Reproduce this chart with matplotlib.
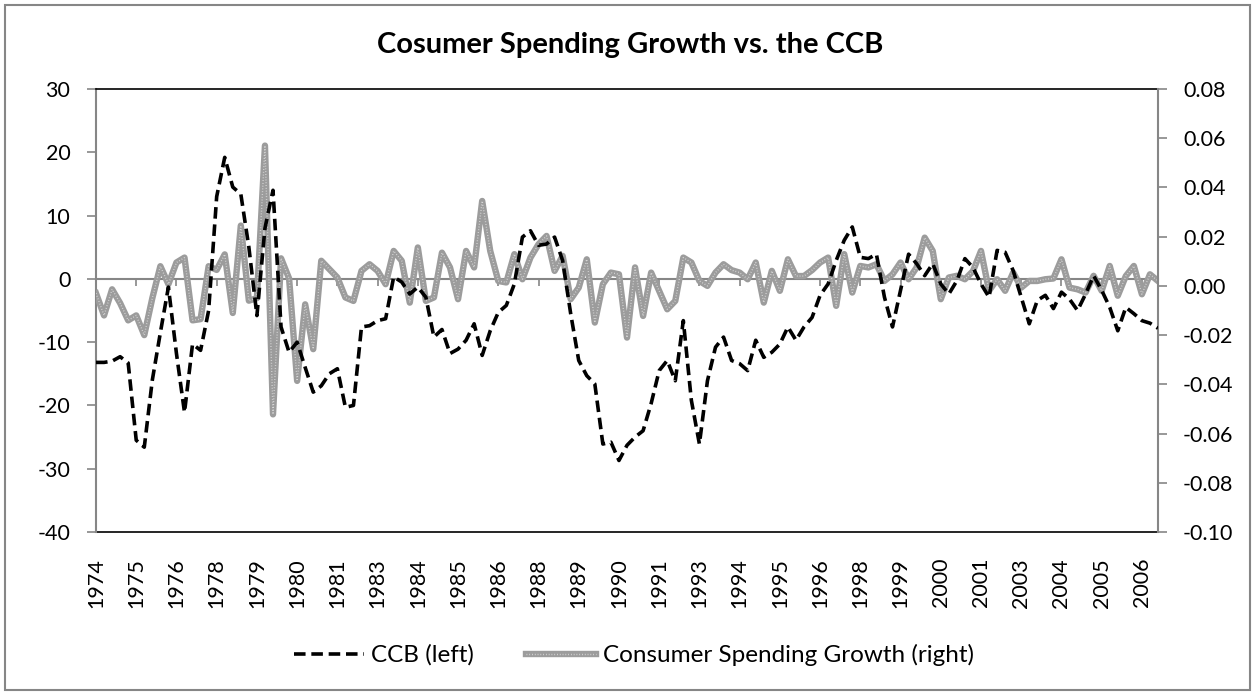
import numpy as np
import matplotlib
matplotlib.use('Agg')
import matplotlib.pyplot as plt
from matplotlib.lines import Line2D
from matplotlib.patches import Rectangle
from matplotlib.ticker import FormatStrFormatter

plt.rcParams['font.family'] = ['Lato', 'DejaVu Sans']
plt.rcParams['axes.unicode_minus'] = False

# quarterly data, 1974Q2 - 2007Q2
ccb = [-13.2, -13.2, -13.0, -12.3, -13.3, -25.5, -26.6, -16.0, -8.5, -1.3,
       -11.8, -21.1, -10.3, -11.3, -5.0, 13.0, 19.2, 14.5, 13.4, 5.0,
       -5.8, 8.0, 14.0, -7.6, -11.6, -10.0, -14.0, -17.9, -16.9, -15.0,
       -14.2, -20.3, -20.0, -7.6, -7.4, -6.6, -6.3, 0.3, -0.5, -2.4,
       -1.3, -2.9, -9.2, -8.0, -11.8, -11.1, -9.7, -7.1, -12.1, -8.2,
       -5.3, -4.2, -0.8, 6.6, 7.6, 5.3, 5.5, 6.6, 2.9, -5.5,
       -12.9, -15.3, -16.6, -26.1, -25.8, -28.7, -26.3, -25.0, -24.0, -19.7,
       -14.5, -12.9, -16.1, -6.6, -19.2, -26.1, -16.1, -10.8, -9.2, -12.9,
       -13.4, -14.5, -9.7, -12.4, -11.6, -10.3, -7.6, -9.7, -7.6, -6.1,
       -2.6, -0.8, 2.9, 6.1, 8.2, 3.4, 3.2, 3.9, -2.9, -7.6,
       -1.8, 3.9, 2.4, 0.5, 2.4, -0.8, -2.4, -0.3, 3.2, 1.8,
       -0.8, -2.9, 4.5, 4.2, 1.3, -2.9, -7.1, -3.4, -2.6, -4.7,
       -2.1, -3.2, -5.0, -2.4, 0.5, -1.8, -4.5, -8.2, -4.5, -5.5,
       -6.6, -7.0, -7.8]

spending_growth = [-0.003, -0.012, -0.0014, -0.007, -0.014, -0.012, -0.020, -0.005, 0.008, 0.0007,
                   0.0095, 0.0115, -0.014, -0.0135, 0.008, 0.0065, 0.0128, -0.011, 0.0245, -0.006,
                   -0.005, 0.057, -0.0522, 0.0112, 0.003, -0.0386, -0.0075, -0.0257, 0.0102, 0.0068,
                   0.0034, -0.0047, -0.0061, 0.0061, 0.0088, 0.0061, 0.0007, 0.0142, 0.0102, -0.0068,
                   0.0156, -0.0061, -0.0047, 0.0135, 0.0075, -0.0054, 0.0142, 0.0075, 0.0345, 0.0142,
                   0.002, 0.0014, 0.0129, 0.0027, 0.0115, 0.0169, 0.0203, 0.0061, 0.0122, -0.0054,
                   -0.0007, 0.0108, -0.0149, 0.0007, 0.0054, 0.0047, -0.021, 0.0075, -0.0122, 0.0054,
                   -0.002, -0.0095, -0.0061, 0.0115, 0.0095, 0.002, 0.0, 0.0054, 0.0088, 0.0064,
                   0.0054, 0.0027, 0.0095, -0.0068, 0.0061, -0.002, 0.0108, 0.004, 0.004, 0.0064,
                   0.0095, 0.0115, -0.0081, 0.0129, -0.0027, 0.0081, 0.0075, 0.0088, 0.002, 0.0047,
                   0.0095, 0.0027, 0.0075, 0.0196, 0.0142, -0.0054, 0.0034, 0.0041, 0.0027, 0.006,
                   0.0142, -0.002, 0.0027, -0.002, 0.0054, -0.0007, 0.002, 0.002, 0.0027, 0.003,
                   0.0108, -0.0007, -0.0014, -0.0027, 0.0041, -0.002, 0.0081, -0.004, 0.004, 0.0081,
                   -0.0034, 0.0047, 0.002]

year_labels = ['1974', '1975', '1976', '1978', '1979', '1980', '1981', '1983', '1984',
               '1985', '1986', '1988', '1989', '1990', '1991', '1993', '1994', '1995',
               '1996', '1998', '1999', '2000', '2001', '2003', '2004', '2005', '2006']

x = np.arange(len(ccb))
tick_pos = x[::5]

axis_grey = '#868686'
line_grey = '#9c9c9c'
dash = (0, (3.2, 1.6))

fig = plt.figure(figsize=(12.55, 6.93), dpi=100)
fig.patches.append(Rectangle((5 / 1255, 3 / 693), 1245 / 1255, 685 / 693,
                             transform=fig.transFigure, fill=False,
                             edgecolor=axis_grey, linewidth=1.5))

ax = fig.add_axes([96 / 1255, 1 - 532 / 693, (1158 - 96) / 1255, (532 - 89) / 693])
ax2 = ax.twinx()

# right axis series, then the CCB on top of it
g1, = ax2.plot(x, spending_growth, color=line_grey, lw=4.6, zorder=2)
g2, = ax2.plot(x, spending_growth, color='#d8d8d8', lw=1.0, ls=(0, (0.6, 1.4)), zorder=2.1)
c1, = ax2.plot(x, ccb, transform=ax.transData, color='black', lw=2.6, ls=dash, zorder=3)

ax.set_xlim(0, len(ccb) - 1)
ax.set_ylim(-40, 30)
ax2.set_ylim(-0.10, 0.08)

# left axis
ax.set_yticks(np.arange(-40, 31, 10))
ax.tick_params(axis='y', direction='out', length=6.5, width=1.2, color=axis_grey,
               labelsize=15.5, pad=12)
ax.spines['left'].set_color(axis_grey)
ax.spines['left'].set_linewidth(1.5)
ax.spines['right'].set_visible(False)
ax.spines['top'].set_color('black')
ax.spines['top'].set_linewidth(1.2)
ax.spines['bottom'].set_position(('data', 0))
ax.spines['bottom'].set_color(axis_grey)
ax.spines['bottom'].set_linewidth(1.5)
ax.set_xticks(tick_pos)
ax.tick_params(axis='x', direction='out', length=5, width=1.2, color=axis_grey,
               labelbottom=False)

# right axis
ax2.set_yticks(np.arange(-0.10, 0.081, 0.02))
ax2.yaxis.set_major_formatter(FormatStrFormatter('%.2f'))
ax2.tick_params(axis='y', direction='out', length=6.5, width=1.2, color=axis_grey,
                labelsize=15.5, pad=11.5)
for s in ['left', 'top', 'bottom']:
    ax2.spines[s].set_visible(False)
ax2.spines['right'].set_color(axis_grey)
ax2.spines['right'].set_linewidth(1.5)

# category labels at the bottom of the plot area
sec = ax.secondary_xaxis('bottom')
sec.set_xticks(tick_pos, labels=year_labels, rotation=90)
sec.tick_params(axis='x', length=0, labelsize=15.5, pad=18.7)
sec.spines['bottom'].set_color('black')
sec.spines['bottom'].set_linewidth(1.2)

fig.text(630 / 1255, 1 - 45 / 693, 'Cosumer Spending Growth vs. the CCB',
         ha='center', va='center', fontsize=21, fontweight='bold')

fig.legend([c1, (g1, g2)], ['CCB (left)', 'Consumer Spending Growth (right)'],
           loc='center', bbox_to_anchor=(634 / 1255, 1 - 655 / 693), ncol=2,
           frameon=False, fontsize=17.5, handlelength=2.9, handletextpad=0.29,
           columnspacing=2.14)

fig.savefig('out.png', dpi=100)
